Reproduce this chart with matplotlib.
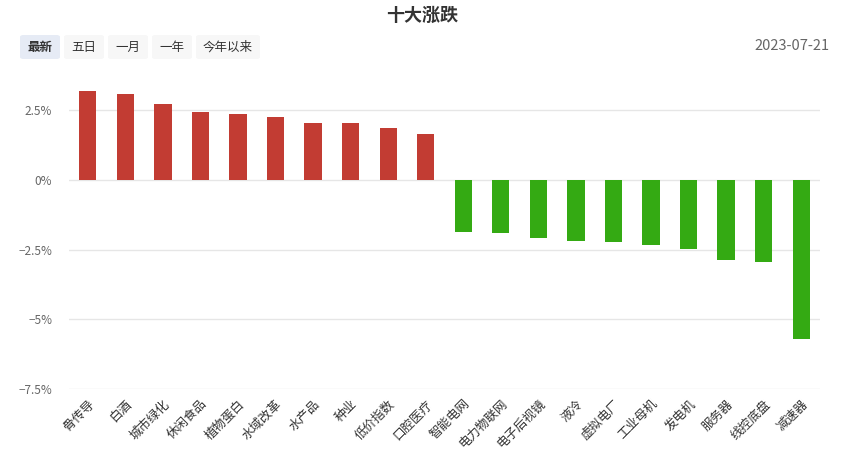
import matplotlib
matplotlib.use('Agg')
import matplotlib.pyplot as plt
from matplotlib.patches import FancyBboxPatch
from matplotlib.ticker import FuncFormatter

plt.rcParams['font.family'] = ['Noto Sans CJK SC', 'DejaVu Sans']
plt.rcParams['axes.unicode_minus'] = True

categories = ['骨传导', '白酒', '城市绿化', '休闲食品', '植物蛋白', '水域改革', '水产品', '种业', '低价指数', '口腔医疗',
              '智能电网', '电力物联网', '电子后视镜', '液冷', '虚拟电厂', '工业母机', '发电机', '服务器', '线控底盘', '减速器']
changes = [3.19, 3.08, 2.73, 2.44, 2.37, 2.26, 2.04, 2.04, 1.87, 1.65,
           -1.88, -1.91, -2.09, -2.20, -2.24, -2.34, -2.49, -2.88, -2.95, -5.71]
y_ticks = [-7.5, -5, -2.5, 0, 2.5]
buttons = ['最新', '五日', '一月', '一年', '今年以来']
date_text = '2023-07-21'

W, H = 863, 472
fig = plt.figure(figsize=(W / 100, H / 100), dpi=100)
ax = fig.add_axes([69 / W, 1 - 389 / H, (820 - 69) / W, (389 - 88) / H])

colors = ['#c23c33' if v >= 0 else '#34aa13' for v in changes]
x = range(len(categories))
ax.bar(x, changes, width=0.46, color=colors, zorder=3)

ax.set_xlim(-0.5, len(categories) - 0.5)
ax.set_ylim(-7.5, 3.3)
ax.set_yticks(y_ticks)
ax.yaxis.set_major_formatter(FuncFormatter(lambda v, p: ('%g%%' % v).replace('-', '\u2212')))
ax.grid(axis='y', color='#e6e6e6', linewidth=1, zorder=0)
for s in ax.spines.values():
    s.set_visible(False)
ax.tick_params(axis='y', length=0, labelsize=8.5, labelcolor='#666666', pad=12)
ax.tick_params(axis='x', length=0, pad=6)
ax.set_xticks(list(x))
ax.set_xticklabels(categories, rotation=45, ha='right', va='top', rotation_mode='anchor',
                   fontsize=9, color='#333333')

fig.text(422 / W, 1 - 15 / H, '十大涨跌', ha='center', va='center', fontsize=13, fontweight='bold', color='#333333')

bx = 20
for i, b in enumerate(buttons):
    w = 40 if len(b) == 2 else 64
    fc = '#e6ebf5' if i == 0 else '#f7f7f7'
    fig.patches.append(FancyBboxPatch((bx / W, 1 - 59 / H), w / W, 24 / H,
                                      boxstyle='round,pad=0,rounding_size=0.004',
                                      transform=fig.transFigure, facecolor=fc, edgecolor='none'))
    fig.text((bx + w / 2) / W, 1 - 47 / H, b, ha='center', va='center', fontsize=9,
             color='#333333', fontweight='bold' if i == 0 else 'normal')
    bx += w + 4

fig.text(830 / W, 1 - 46 / H, date_text, ha='right', va='center', fontsize=10.5, color='#666666')

fig.savefig('out.png', dpi=100, facecolor='white')
